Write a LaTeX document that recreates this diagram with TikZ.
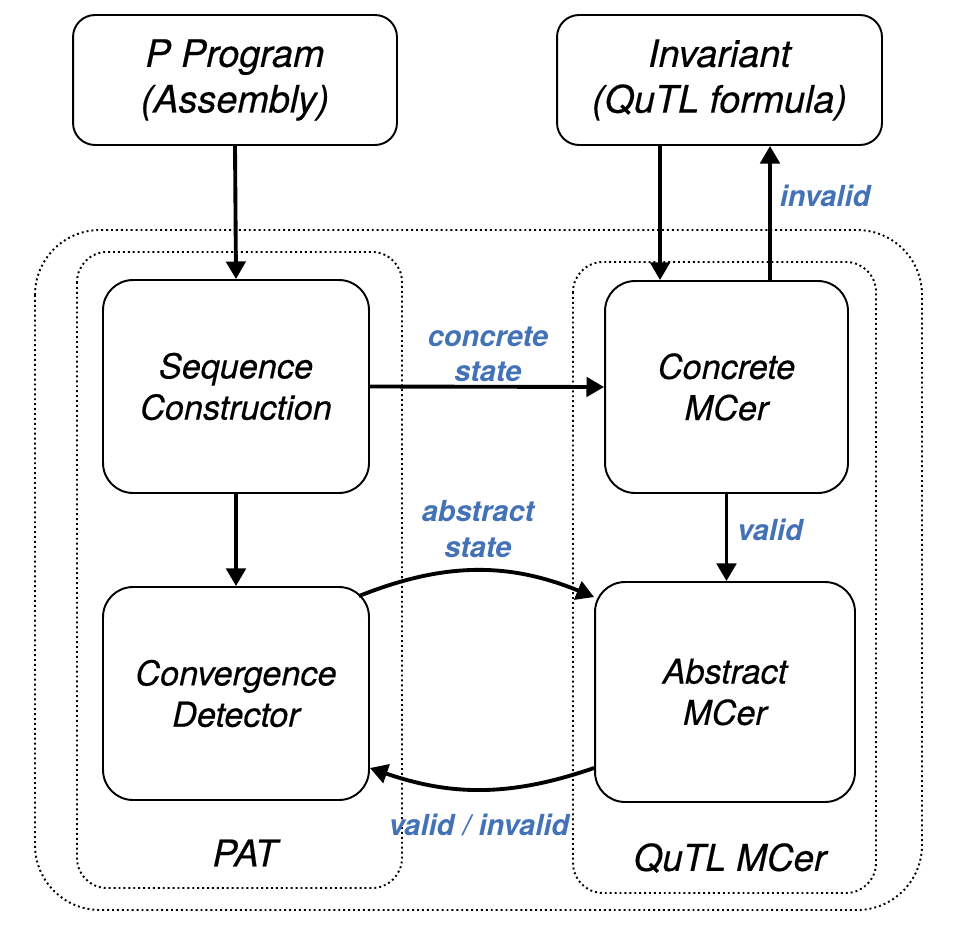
\documentclass[tikz,border=0pt]{standalone}
\usepackage{fontspec}
\setmainfont{TeX Gyre Heros}[ItalicFeatures={FakeBold=0.4}]
\usetikzlibrary{arrows.meta}
\definecolor{lblblue}{RGB}{68,114,182}
\tikzset{
  box/.style={draw, line width=1.1pt, rounded corners=0.6cm, inner sep=0pt, align=center,
    font=\fontsize{19.5}{23.5}\selectfont\itshape},
  topbox/.style={box, rounded corners=0.44cm, minimum width=6.5cm, minimum height=2.6cm,
    font=\fontsize{21.5}{26}\selectfont\itshape},
  dotbox/.style={line width=1.1pt, dash pattern=on 1.1pt off 1.7pt},
  flow/.style={line width=2.2pt, -{Triangle[length=10pt,width=11pt]}},
  lbl/.style={text=lblblue, inner sep=0pt, align=center,
    font=\fontsize{16.5}{20}\selectfont\bfseries\itshape},
  grp/.style={inner sep=0pt, font=\fontsize{21}{25}\selectfont\itshape},
}
\begin{document}
\begin{tikzpicture}[x=0.02cm, y=0.02cm]
\useasboundingbox (0,0) rectangle (955,-942);
% groups
\draw [dotbox, rounded corners=1.3cm] (35,-230) rectangle (922,-910);
\draw [dotbox, rounded corners=0.6cm] (77,-252) rectangle (402,-888);
\draw [dotbox, rounded corners=0.6cm] (573,-262) rectangle (876,-893);
\node [grp] (pat) at (245,-853) {PAT};
\node [grp] (qutl) at (730,-858) {QuTL MCer};
% boxes
\node [topbox, minimum width=6.48cm] (prog) at (235,-80) {P Program\\(Assembly)};
\node [topbox] (inv) at (719.5,-80) {Invariant\\(QuTL formula)};
\node [box, minimum width=5.32cm, minimum height=4.26cm] (seq) at (236,-386.5) {Sequence\\Construction};
\node [box, minimum width=4.86cm, minimum height=4.24cm] (conc) at (726.5,-387) {Concrete\\MCer};
\node [box, minimum width=5.32cm, minimum height=4.26cm] (conv) at (236,-693.5) {Convergence\\Detector};
\node [box, minimum width=5.2cm, minimum height=4.4cm] (abs) at (725,-692) {Abstract\\MCer};
% arrows
\draw [flow] (prog.south) -- (seq.north);
\draw [flow] (seq.south) -- (conv.north);
\draw [flow] ([xshift=-1.33cm]conc.north |- inv.south) -- ([xshift=-1.33cm]conc.north);
\draw [flow] ([xshift=0.87cm]conc.north) -- ([xshift=0.87cm]conc.north |- inv.south);
\draw [flow] (conc.south) -- (conc.south |- abs.north);
\draw [flow] (seq.east) -- (conc.west);
\draw [flow] ([xshift=-0.22cm,yshift=-0.2cm]conv.north east) to [bend left=22] ([yshift=-0.32cm]abs.north west);
\draw [flow] ([yshift=-1.52cm]abs.west) to [bend left=19] ([yshift=-1.49cm]conv.east);
% labels
\node [lbl] (invalid) at (825,-196) {invalid};
\node [lbl] (valid) at (770,-530) {valid};
\node [lbl] (cstate) at (488,-354) {concrete\\state};
\node [lbl] (astate) at (478,-529) {abstract\\state};
\node [lbl] (result) at (479,-825) {valid / invalid};
\end{tikzpicture}
\end{document}
